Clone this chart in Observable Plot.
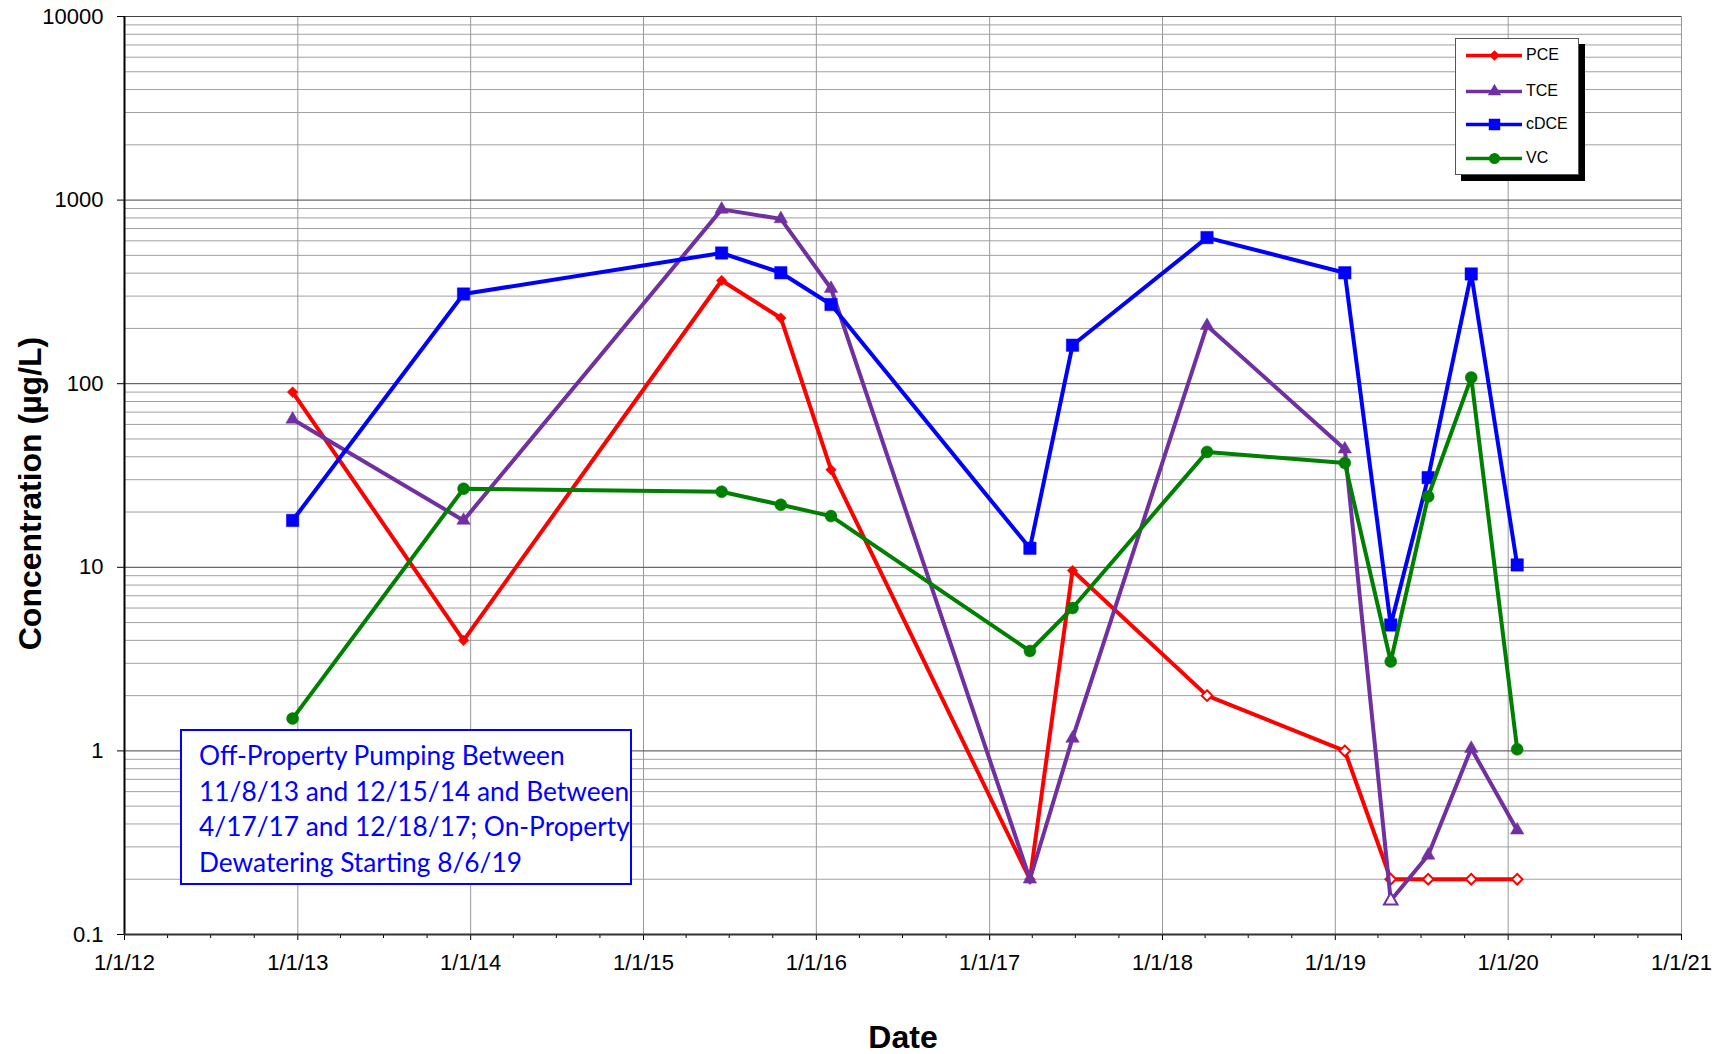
<!DOCTYPE html>
<html>
<head>
<meta charset="utf-8">
<script src="https://cdn.jsdelivr.net/npm/d3@7"></script>
<script src="https://cdn.jsdelivr.net/npm/@observablehq/plot@0.6"></script>
<style>
  html, body { margin: 0; padding: 0; background: #fff; }
  #wrap { position: relative; width: 1725px; height: 1054px; overflow: hidden; }
  #note {
    position: absolute; left: 180px; top: 729px; width: 448px; height: 152px;
    border: 2px solid #0000ff; background: #fff; box-sizing: content-box;
    font-family: Lato, "Open Sans", sans-serif; font-size: 26.3px; line-height: 35.6px;
    color: #0000ff; padding: 0; white-space: nowrap;
  }
  #note .inner { position: absolute; left: 17px; top: 7px; }
  #legend {
    position: absolute; left: 1455px; top: 38px; width: 122px; height: 135px;
    border: 1px solid #555; background: #fff; box-shadow: 6px 6px 0 #000;
    font-family: "Liberation Sans", Arial, sans-serif; font-size: 16px;
  }
  #legend .row { position: absolute; left: 10px; height: 20px; display: flex; align-items: center; }
  #legend .row span { margin-left: 4px; }
</style>
</head>
<body>
<div id="wrap"></div>
<script>
// ---- data ----
const sampleDates = ["2012-12-21","2013-12-17","2015-06-15","2015-10-18","2016-02-01","2017-03-27","2017-06-25","2018-04-05","2019-01-21","2019-04-28","2019-07-16","2019-10-15","2020-01-20"];
const pce  = [90, 4.0, 365, 228, 34, 0.2, 9.6, 2.0, 1.0, 0.2, 0.2, 0.2, 0.2];
const pceND = [false, false, false, false, false, false, false, true, true, true, true, true, true];
const tce  = [64, 18, 890, 790, 330, 0.2, 1.17, 207, 44, 0.153, 0.27, 1.03, 0.37];
const tceND = [false, false, false, false, false, false, false, false, false, true, false, false, false];
const cdce = [18, 308, 515, 402, 270, 12.7, 162, 625, 402, 4.85, 30.8, 396, 10.3];
const cdceND = [false, false, false, false, false, false, false, false, false, false, false, false, false];
const vc   = [1.5, 26.8, 25.8, 21.9, 19, 3.5, 6.0, 42.5, 37, 3.07, 24.3, 108, 1.02];
const vcND = [false, false, false, false, false, false, false, false, false, false, false, false, false];

const seriesNames = ["PCE", "TCE", "cDCE", "VC"];
const seriesColors = ["#ff0000", "#7030a0", "#0000ff", "#008000"];
const seriesSymbols = ["diamond2", "triangle", "square", "circle"];
const seriesR = [4.8, 5, 7, 6];

const yTicks = [0.1, 1, 10, 100, 1000, 10000];
const yearTicks = ["2012","2013","2014","2015","2016","2017","2018","2019","2020","2021"];
const noteLines = ["Off-Property Pumping Between", "11/8/13 and 12/15/14 and Between", "4/17/17 and 12/18/17; On-Property", "Dewatering Starting 8/6/19"];

// ---- build tables ----
const parse = d3.utcParse("%Y-%m-%d");
const valueSets = [pce, tce, cdce, vc];
const ndSets = [pceND, tceND, cdceND, vcND];
const rows = [];
seriesNames.forEach((s, i) => {
  sampleDates.forEach((d, j) => rows.push({series: s, date: parse(d), value: valueSets[i][j], nd: ndSets[i][j]}));
});

const years = yearTicks.map(y => new Date(Date.UTC(+y, 0, 1)));
const quarters = [];
for (let y = 2012; y < 2021; y++) for (let m = 3; m < 12; m += 3) quarters.push(new Date(Date.UTC(y, m, 1)));
const minorY = [];
for (let e = -1; e < 4; e++) for (let k = 2; k <= 9; k++) minorY.push(+(k * Math.pow(10, e)).toPrecision(3));
const fmtDate = d => `${d.getUTCMonth() + 1}/${d.getUTCDate()}/${String(d.getUTCFullYear()).slice(2)}`;

const marks = [
  Plot.ruleY(minorY, {stroke: "#a0a0a0", strokeWidth: 1}),
  Plot.ruleX(years.slice(1), {stroke: "#999", strokeWidth: 1}),
  Plot.ruleY(yTicks.slice(1), {stroke: "#444", strokeWidth: 1}),
  Plot.axisY({ticks: yTicks, tickSize: 7, tickPadding: 14, tickFormat: d => String(d), fontSize: 22, label: null}),
  Plot.axisX({ticks: quarters, tickSize: 4, tickFormat: () => "", label: null}),
  Plot.axisX({ticks: years, tickSize: 6, tickPadding: 14, tickFormat: fmtDate, fontSize: 22, label: null}),
  Plot.ruleX([years[0]], {stroke: "#000", strokeWidth: 2}),
  Plot.ruleY([0.1], {stroke: "#333", strokeWidth: 2}),
];
seriesNames.forEach((s, i) => {
  const data = rows.filter(r => r.series === s);
  marks.push(Plot.line(data, {x: "date", y: "value", stroke: seriesColors[i], strokeWidth: 4}));
  marks.push(Plot.dot(data, {
    x: "date", y: "value", symbol: () => seriesSymbols[i], r: seriesR[i],
    fill: d => d.nd ? "#fff" : seriesColors[i],
    stroke: seriesColors[i], strokeWidth: d => d.nd ? 2 : 0.5
  }));
});
marks.push(Plot.text(["Concentration (µg/L)"], {frameAnchor: "left", textAnchor: "middle", rotate: -90, dx: -94, dy: 18, text: d => d, fontSize: 32, fontWeight: "bold", fill: "#000"}));
marks.push(Plot.text(["Date"], {frameAnchor: "bottom", dy: 113, text: d => d, fontSize: 32, fontWeight: "bold", fill: "#000"}));

const chart = Plot.plot({
  width: 1725, height: 1054,
  marginLeft: 124, marginRight: 44, marginTop: 16, marginBottom: 120,
  style: {fontFamily: "'Liberation Sans', Arial, sans-serif", background: "#fff", color: "#000", overflow: "visible"},
  x: {type: "utc", domain: [years[0], years[years.length - 1]]},
  y: {type: "log", domain: [0.1, 10000]},
  symbol: {type: "identity"},
  marks
});
const wrap = document.getElementById("wrap");
wrap.appendChild(chart);

// annotation box
const note = document.createElement("div");
note.id = "note";
const inner = document.createElement("div");
inner.className = "inner";
inner.innerHTML = noteLines.map(l => `<div>${l}</div>`).join("");
note.appendChild(inner);
wrap.appendChild(note);

// legend
const legend = document.createElement("div");
legend.id = "legend";
const rowTops = [6, 42, 75, 109];
seriesNames.forEach((s, i) => {
  const row = document.createElement("div");
  row.className = "row";
  row.style.top = rowTops[i] + "px";
  const sw = Plot.plot({
    width: 56, height: 20, margin: 0,
    x: {domain: [0, 1], axis: null}, y: {domain: [0, 1], axis: null},
    symbol: {type: "identity"},
    marks: [
      Plot.ruleY([0.5], {x1: 0, x2: 1, stroke: seriesColors[i], strokeWidth: 3.5}),
      Plot.dot([0.5], {x: d => d, y: 0.5, symbol: () => seriesSymbols[i], r: seriesR[i] * 0.8, fill: seriesColors[i], stroke: seriesColors[i]})
    ]
  });
  row.appendChild(sw);
  const t = document.createElement("span");
  t.textContent = s;
  row.appendChild(t);
  legend.appendChild(row);
});
wrap.appendChild(legend);
</script>
</body>
</html>
